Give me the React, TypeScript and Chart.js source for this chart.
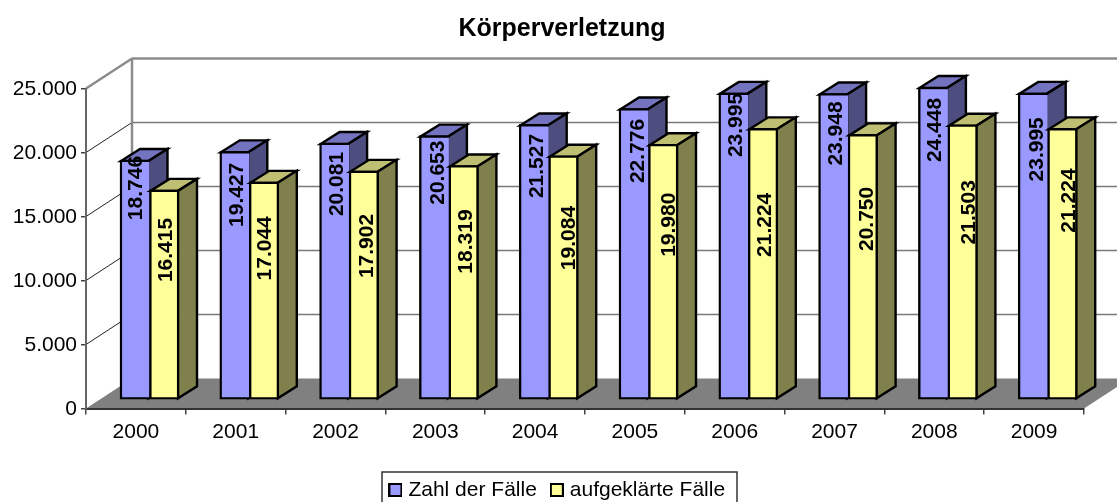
import React, { useEffect, useRef } from "react";
import { Chart, registerables } from "chart.js";

Chart.register(...registerables);

const years = ["2000", "2001", "2002", "2003", "2004", "2005", "2006", "2007", "2008", "2009"];
const casesTotal = [18746, 19427, 20081, 20653, 21527, 22776, 23995, 23948, 24448, 23995];
const casesSolved = [16415, 17044, 17902, 18319, 19084, 19980, 21224, 20750, 21503, 21224];

const labelNudgeTotalX = [0, 2, 1.5, 3, 2, 3, 2, 1.5, 1, 3];
const labelNudgeTotalY = [27.5, 43, 40.5, 36.5, 41, 42, 31.6, 39.5, 42.4, 56];
const labelNudgeSolvedX = [1, 0, 2.5, 1.7, 5, 5, 1.3, 3.5, 5.7, 6];
const labelNudgeSolvedY = [59.6, 66, 74.6, 75.5, 81.8, 80, 96, 84, 87, 71.7];

const FONT = "'Liberation Sans', Arial, sans-serif";
const WALL_DX = 46;
const WALL_DY = 30;
const BAR_DX = 13.6;
const BAR_DY = 8.5;
const LABEL_DY = 8;
const FACE_DX = 19;
const FACE_DY = 12;
const STROKE = 2.4;

const formatThousands = (v: number) => {
  const s = String(Math.round(v));
  return s.replace(/\B(?=(\d{3})+(?!\d))/g, ".");
};

const faces = [
  { top: "#7373BF", side: "#4D4D80" },
  { top: "#BFBF73", side: "#80804D" },
];
const nudges = [
  { x: labelNudgeTotalX, y: labelNudgeTotalY },
  { x: labelNudgeSolvedX, y: labelNudgeSolvedY },
];

const poly = (ctx: CanvasRenderingContext2D, pts: number[][], fill: string) => {
  ctx.beginPath();
  pts.forEach((p, i) => (i ? ctx.lineTo(p[0], p[1]) : ctx.moveTo(p[0], p[1])));
  ctx.closePath();
  ctx.fillStyle = fill;
  ctx.fill();
  ctx.lineWidth = STROKE;
  ctx.strokeStyle = "#000";
  ctx.lineJoin = "miter";
  ctx.stroke();
};

const legendMarker = (color: string) => {
  const c = document.createElement("canvas");
  c.width = 14;
  c.height = 14;
  const g = c.getContext("2d") as CanvasRenderingContext2D;
  g.fillStyle = color;
  g.fillRect(1, 1, 12, 12);
  g.strokeStyle = "#000";
  g.lineWidth = 2;
  g.strokeRect(1, 1, 12, 12);
  return c;
};

const box3d = {
  id: "box3d",
  afterLayout(chart: any) {
    chart.titleBlock.left = 40;
    chart.legend.left = 34;
    chart.legend.top = 462;
  },
  beforeDraw(chart: any) {
    const { ctx, chartArea: a, scales, width } = chart;
    const y = scales.y;
    ctx.save();
    ctx.fillStyle = "#fff";
    ctx.fillRect(0, 0, width, chart.height);

    // floor
    const y0 = y.getPixelForValue(0);
    ctx.beginPath();
    ctx.moveTo(a.left, y0);
    ctx.lineTo(a.right, y0);
    ctx.lineTo(a.right + WALL_DX, y0 - WALL_DY);
    ctx.lineTo(a.left + WALL_DX, y0 - WALL_DY);
    ctx.closePath();
    ctx.fillStyle = "#808080";
    ctx.fill();

    // gridlines across side wall and back wall
    y.ticks.forEach((t: any) => {
      if (t.value === 0) return;
      const p = y.getPixelForValue(t.value);
      const isTop = t.value === y.max;
      ctx.beginPath();
      ctx.moveTo(a.left, p);
      ctx.lineTo(a.left + WALL_DX, p - WALL_DY);
      ctx.strokeStyle = isTop ? "#8c8c8c" : "#222";
      ctx.lineWidth = isTop ? 2.5 : 1;
      ctx.stroke();
      ctx.beginPath();
      ctx.moveTo(a.left + WALL_DX, p - WALL_DY);
      ctx.lineTo(width, p - WALL_DY);
      ctx.strokeStyle = isTop ? "#8c8c8c" : "#7a7a7a";
      ctx.lineWidth = isTop ? 2.5 : 1.5;
      ctx.stroke();
    });
    // back wall left edge
    ctx.beginPath();
    ctx.moveTo(a.left + WALL_DX, y.getPixelForValue(y.max) - WALL_DY);
    ctx.lineTo(a.left + WALL_DX, y0 - WALL_DY);
    ctx.strokeStyle = "#8c8c8c";
    ctx.lineWidth = 2.5;
    ctx.stroke();
    ctx.restore();
  },
  // The library would paint the second series first; paint left-to-right instead.
  beforeDatasetDraw() {
    return false;
  },
  afterDatasetsDraw(chart: any) {
    const { ctx } = chart;
    [0, 1].forEach((d) => {
      const meta = chart.getDatasetMeta(d);
      const f = faces[d];
      ctx.save();
      ctx.translate(BAR_DX, -BAR_DY);
      meta.data.forEach((el: any) => {
        const l = el.x - el.width / 2 + 1;
        const r = el.x + el.width / 2 - 1;
        const t = el.y + 1;
        const b = el.base - 1;
        poly(ctx, [[l, t], [r, t], [r + FACE_DX, t - FACE_DY], [l + FACE_DX, t - FACE_DY]], f.top);
        poly(ctx, [[r, t], [r + FACE_DX, t - FACE_DY], [r + FACE_DX, b - FACE_DY], [r, b]], f.side);
      });
      meta.controller.draw();
      ctx.restore();
    });

    ctx.save();
    ctx.fillStyle = "#000";
    ctx.font = `bold 21px ${FONT}`;
    ctx.textAlign = "center";
    ctx.textBaseline = "middle";
    [0, 1].forEach((d) => {
      const meta = chart.getDatasetMeta(d);
      meta.data.forEach((el: any, i: number) => {
        const v = chart.data.datasets[d].data[i];
        ctx.save();
        ctx.translate(el.x + BAR_DX + nudges[d].x[i], el.y - LABEL_DY + nudges[d].y[i]);
        ctx.rotate(-Math.PI / 2);
        ctx.fillText(formatThousands(v), 0, 1);
        ctx.restore();
      });
    });
    ctx.restore();
  },
  afterDraw(chart: any) {
    const { ctx } = chart;
    ctx.save();
    ctx.strokeStyle = "#333";
    ctx.lineWidth = 1.5;
    ctx.strokeRect(382, 472, 355, 40);
    ctx.restore();
  },
};

export default function App() {
  const ref = useRef<HTMLCanvasElement>(null);
  useEffect(() => {
    const chart = new Chart(ref.current as HTMLCanvasElement, {
      type: "bar",
      data: {
        labels: years,
        datasets: [
          {
            label: "Zahl der Fälle",
            data: casesTotal,
            backgroundColor: "#9999FF",
            borderColor: "#000",
            borderWidth: { left: STROKE, top: STROKE, bottom: STROKE, right: 0 },
            borderSkipped: false,
            barThickness: 29.5,
            clip: false,
          },
          {
            label: "aufgeklärte Fälle",
            data: casesSolved,
            backgroundColor: "#FFFF99",
            borderColor: "#000",
            borderWidth: STROKE,
            borderSkipped: false,
            barThickness: 29.5,
            clip: false,
          },
        ],
      } as any,
      options: {
        animation: false,
        responsive: false,
        layout: { padding: { left: 0, right: 33, top: 0, bottom: 0 } },
        scales: {
          x: {
            afterFit(s: any) {
              s.height = 93.5 - s.chart.legend.height;
            },
            grid: { drawOnChartArea: false, drawTicks: true, tickLength: 6, color: "#444", lineWidth: 1.5 },
            border: { display: true, color: "#333", width: 2 },
            ticks: { color: "#000", font: { family: FONT, size: 21 }, padding: 5, maxRotation: 0 },
          },
          y: {
            min: 0,
            max: 25000,
            afterFit(s: any) {
              s.width = 86;
            },
            grid: { drawOnChartArea: false, drawTicks: true, tickLength: 5, color: "#444", lineWidth: 1.5 },
            border: { display: true, color: "#666", width: 2 },
            ticks: {
              stepSize: 5000,
              color: "#000",
              font: { family: FONT, size: 21 },
              padding: 4,
              labelOffset: 1,
              callback: (v: any) => formatThousands(Number(v)),
            },
          },
        },
        plugins: {
          title: {
            display: true,
            text: "Körperverletzung",
            color: "#000",
            font: { family: FONT, size: 25, weight: "bold" },
            padding: { top: 14, bottom: 44.5 },
          },
          legend: {
            position: "bottom",
            labels: {
              color: "#000",
              font: { family: FONT, size: 21 },
              usePointStyle: true,
              boxWidth: 5,
              boxHeight: 12,
              padding: 17.5,
              generateLabels(c: any) {
                return (Chart.defaults.plugins.legend.labels as any)
                  .generateLabels(c)
                  .map((it: any) => ({ ...it, pointStyle: legendMarker(it.fillStyle) }));
              },
            },
          },
          tooltip: { enabled: false },
        },
      } as any,
      plugins: [box3d as any],
    });
    return () => chart.destroy();
  }, []);
  return (
    <div style={{ position: "fixed", left: 0, top: 0, width: 1117, height: 502 }}>
      <canvas ref={ref} width={1117} height={502} style={{ display: "block" }} />
    </div>
  );
}
